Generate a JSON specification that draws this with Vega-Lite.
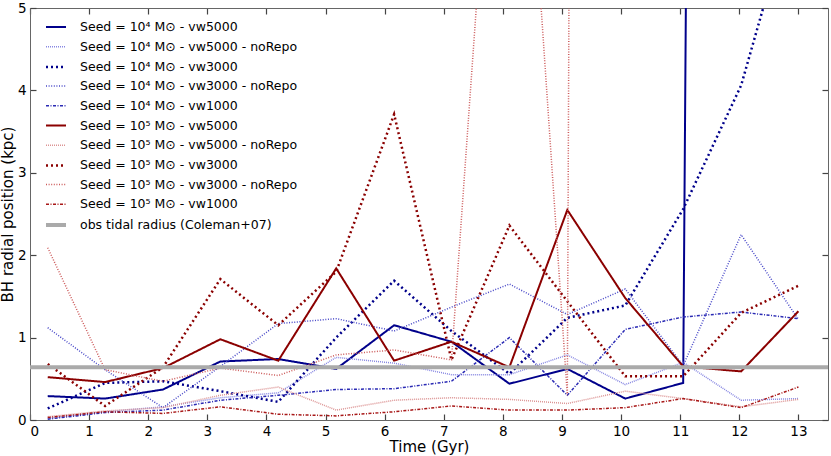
{
  "$schema": "https://vega.github.io/schema/vega-lite/v6.json",
  "width": 798,
  "height": 412,
  "autosize": "none",
  "padding": {"left": 30, "top": 8, "right": 3, "bottom": 36},
  "background": "white",
  "config": {
    "view": {"stroke": null},
    "font": "DejaVu Sans",
    "axis": {
      "grid": false,
      "domainColor": "#666666",
      "tickColor": "#444444",
      "tickWidth": 1.2,
      "labelColor": "#000000",
      "titleColor": "#000000",
      "labelFont": "DejaVu Sans",
      "titleFont": "DejaVu Sans",
      "labelFontSize": 13.5,
      "titleFontSize": 15,
      "titleFontWeight": "normal"
    }
  },
  "datasets": {
    "runs": [
      {"series": "Seed = 10⁴ M⊙ - vw5000", "t": 0.3, "r": 0.29},
      {"series": "Seed = 10⁴ M⊙ - vw5000", "t": 1.27, "r": 0.26},
      {"series": "Seed = 10⁴ M⊙ - vw5000", "t": 2.25, "r": 0.37},
      {"series": "Seed = 10⁴ M⊙ - vw5000", "t": 3.22, "r": 0.71},
      {"series": "Seed = 10⁴ M⊙ - vw5000", "t": 4.2, "r": 0.74},
      {"series": "Seed = 10⁴ M⊙ - vw5000", "t": 5.18, "r": 0.62},
      {"series": "Seed = 10⁴ M⊙ - vw5000", "t": 6.16, "r": 1.15},
      {"series": "Seed = 10⁴ M⊙ - vw5000", "t": 7.13, "r": 0.95},
      {"series": "Seed = 10⁴ M⊙ - vw5000", "t": 8.11, "r": 0.44},
      {"series": "Seed = 10⁴ M⊙ - vw5000", "t": 9.09, "r": 0.62},
      {"series": "Seed = 10⁴ M⊙ - vw5000", "t": 10.07, "r": 0.26},
      {"series": "Seed = 10⁴ M⊙ - vw5000", "t": 11.05, "r": 0.45},
      {"series": "Seed = 10⁴ M⊙ - vw5000", "t": 12.03, "r": 99},

      {"series": "Seed = 10⁴ M⊙ - vw5000 - noRepo", "t": 0.3, "r": 0.02},
      {"series": "Seed = 10⁴ M⊙ - vw5000 - noRepo", "t": 1.27, "r": 0.10},
      {"series": "Seed = 10⁴ M⊙ - vw5000 - noRepo", "t": 2.25, "r": 0.16},
      {"series": "Seed = 10⁴ M⊙ - vw5000 - noRepo", "t": 3.22, "r": 0.27},
      {"series": "Seed = 10⁴ M⊙ - vw5000 - noRepo", "t": 4.2, "r": 0.33},
      {"series": "Seed = 10⁴ M⊙ - vw5000 - noRepo", "t": 5.18, "r": 0.76},
      {"series": "Seed = 10⁴ M⊙ - vw5000 - noRepo", "t": 6.16, "r": 0.69},
      {"series": "Seed = 10⁴ M⊙ - vw5000 - noRepo", "t": 7.13, "r": 0.55},
      {"series": "Seed = 10⁴ M⊙ - vw5000 - noRepo", "t": 8.11, "r": 0.55},
      {"series": "Seed = 10⁴ M⊙ - vw5000 - noRepo", "t": 9.09, "r": 0.79},
      {"series": "Seed = 10⁴ M⊙ - vw5000 - noRepo", "t": 10.07, "r": 0.43},
      {"series": "Seed = 10⁴ M⊙ - vw5000 - noRepo", "t": 11.05, "r": 0.70},
      {"series": "Seed = 10⁴ M⊙ - vw5000 - noRepo", "t": 12.03, "r": 0.24},
      {"series": "Seed = 10⁴ M⊙ - vw5000 - noRepo", "t": 13.0, "r": 0.26},

      {"series": "Seed = 10⁴ M⊙ - vw3000", "t": 0.3, "r": 0.14},
      {"series": "Seed = 10⁴ M⊙ - vw3000", "t": 1.27, "r": 0.45},
      {"series": "Seed = 10⁴ M⊙ - vw3000", "t": 2.25, "r": 0.47},
      {"series": "Seed = 10⁴ M⊙ - vw3000", "t": 3.22, "r": 0.35},
      {"series": "Seed = 10⁴ M⊙ - vw3000", "t": 4.2, "r": 0.22},
      {"series": "Seed = 10⁴ M⊙ - vw3000", "t": 5.18, "r": 1.0},
      {"series": "Seed = 10⁴ M⊙ - vw3000", "t": 6.16, "r": 1.69},
      {"series": "Seed = 10⁴ M⊙ - vw3000", "t": 7.13, "r": 1.08},
      {"series": "Seed = 10⁴ M⊙ - vw3000", "t": 8.11, "r": 0.56},
      {"series": "Seed = 10⁴ M⊙ - vw3000", "t": 9.09, "r": 1.24},
      {"series": "Seed = 10⁴ M⊙ - vw3000", "t": 10.07, "r": 1.39},
      {"series": "Seed = 10⁴ M⊙ - vw3000", "t": 11.05, "r": 2.56},
      {"series": "Seed = 10⁴ M⊙ - vw3000", "t": 12.03, "r": 4.06},
      {"series": "Seed = 10⁴ M⊙ - vw3000", "t": 13.0, "r": 6.5},

      {"series": "Seed = 10⁴ M⊙ - vw3000 - noRepo", "t": 0.3, "r": 1.12},
      {"series": "Seed = 10⁴ M⊙ - vw3000 - noRepo", "t": 1.27, "r": 0.61},
      {"series": "Seed = 10⁴ M⊙ - vw3000 - noRepo", "t": 2.25, "r": 0.15},
      {"series": "Seed = 10⁴ M⊙ - vw3000 - noRepo", "t": 3.22, "r": 0.65},
      {"series": "Seed = 10⁴ M⊙ - vw3000 - noRepo", "t": 4.2, "r": 1.17},
      {"series": "Seed = 10⁴ M⊙ - vw3000 - noRepo", "t": 5.18, "r": 1.23},
      {"series": "Seed = 10⁴ M⊙ - vw3000 - noRepo", "t": 6.16, "r": 1.08},
      {"series": "Seed = 10⁴ M⊙ - vw3000 - noRepo", "t": 7.13, "r": 1.37},
      {"series": "Seed = 10⁴ M⊙ - vw3000 - noRepo", "t": 8.11, "r": 1.65},
      {"series": "Seed = 10⁴ M⊙ - vw3000 - noRepo", "t": 9.09, "r": 1.28},
      {"series": "Seed = 10⁴ M⊙ - vw3000 - noRepo", "t": 10.07, "r": 1.59},
      {"series": "Seed = 10⁴ M⊙ - vw3000 - noRepo", "t": 11.05, "r": 0.66},
      {"series": "Seed = 10⁴ M⊙ - vw3000 - noRepo", "t": 12.03, "r": 2.25},
      {"series": "Seed = 10⁴ M⊙ - vw3000 - noRepo", "t": 13.0, "r": 1.22},

      {"series": "Seed = 10⁴ M⊙ - vw1000", "t": 0.3, "r": 0.01},
      {"series": "Seed = 10⁴ M⊙ - vw1000", "t": 1.27, "r": 0.09},
      {"series": "Seed = 10⁴ M⊙ - vw1000", "t": 2.25, "r": 0.12},
      {"series": "Seed = 10⁴ M⊙ - vw1000", "t": 3.22, "r": 0.24},
      {"series": "Seed = 10⁴ M⊙ - vw1000", "t": 4.2, "r": 0.30},
      {"series": "Seed = 10⁴ M⊙ - vw1000", "t": 5.18, "r": 0.37},
      {"series": "Seed = 10⁴ M⊙ - vw1000", "t": 6.16, "r": 0.38},
      {"series": "Seed = 10⁴ M⊙ - vw1000", "t": 7.13, "r": 0.47},
      {"series": "Seed = 10⁴ M⊙ - vw1000", "t": 8.11, "r": 1.0},
      {"series": "Seed = 10⁴ M⊙ - vw1000", "t": 9.09, "r": 0.30},
      {"series": "Seed = 10⁴ M⊙ - vw1000", "t": 10.07, "r": 1.10},
      {"series": "Seed = 10⁴ M⊙ - vw1000", "t": 11.05, "r": 1.25},
      {"series": "Seed = 10⁴ M⊙ - vw1000", "t": 12.03, "r": 1.31},
      {"series": "Seed = 10⁴ M⊙ - vw1000", "t": 13.0, "r": 1.23},

      {"series": "Seed = 10⁵ M⊙ - vw5000", "t": 0.3, "r": 0.52},
      {"series": "Seed = 10⁵ M⊙ - vw5000", "t": 1.27, "r": 0.46},
      {"series": "Seed = 10⁵ M⊙ - vw5000", "t": 2.25, "r": 0.63},
      {"series": "Seed = 10⁵ M⊙ - vw5000", "t": 3.22, "r": 0.98},
      {"series": "Seed = 10⁵ M⊙ - vw5000", "t": 4.2, "r": 0.72},
      {"series": "Seed = 10⁵ M⊙ - vw5000", "t": 5.18, "r": 1.84},
      {"series": "Seed = 10⁵ M⊙ - vw5000", "t": 6.16, "r": 0.72},
      {"series": "Seed = 10⁵ M⊙ - vw5000", "t": 7.13, "r": 0.95},
      {"series": "Seed = 10⁵ M⊙ - vw5000", "t": 8.11, "r": 0.64},
      {"series": "Seed = 10⁵ M⊙ - vw5000", "t": 9.09, "r": 2.55},
      {"series": "Seed = 10⁵ M⊙ - vw5000", "t": 10.07, "r": 1.48},
      {"series": "Seed = 10⁵ M⊙ - vw5000", "t": 11.05, "r": 0.65},
      {"series": "Seed = 10⁵ M⊙ - vw5000", "t": 12.03, "r": 0.59},
      {"series": "Seed = 10⁵ M⊙ - vw5000", "t": 13.0, "r": 1.32},

      {"series": "Seed = 10⁵ M⊙ - vw5000 - noRepo", "t": 0.3, "r": 0.04},
      {"series": "Seed = 10⁵ M⊙ - vw5000 - noRepo", "t": 1.27, "r": 0.11},
      {"series": "Seed = 10⁵ M⊙ - vw5000 - noRepo", "t": 2.25, "r": 0.15},
      {"series": "Seed = 10⁵ M⊙ - vw5000 - noRepo", "t": 3.22, "r": 0.30},
      {"series": "Seed = 10⁵ M⊙ - vw5000 - noRepo", "t": 4.2, "r": 0.40},
      {"series": "Seed = 10⁵ M⊙ - vw5000 - noRepo", "t": 5.18, "r": 0.12},
      {"series": "Seed = 10⁵ M⊙ - vw5000 - noRepo", "t": 6.16, "r": 0.24},
      {"series": "Seed = 10⁵ M⊙ - vw5000 - noRepo", "t": 7.13, "r": 0.27},
      {"series": "Seed = 10⁵ M⊙ - vw5000 - noRepo", "t": 8.11, "r": 0.25},
      {"series": "Seed = 10⁵ M⊙ - vw5000 - noRepo", "t": 9.09, "r": 0.20},
      {"series": "Seed = 10⁵ M⊙ - vw5000 - noRepo", "t": 10.07, "r": 0.35},
      {"series": "Seed = 10⁵ M⊙ - vw5000 - noRepo", "t": 11.05, "r": 0.26},
      {"series": "Seed = 10⁵ M⊙ - vw5000 - noRepo", "t": 12.03, "r": 0.16},
      {"series": "Seed = 10⁵ M⊙ - vw5000 - noRepo", "t": 13.0, "r": 0.25},

      {"series": "Seed = 10⁵ M⊙ - vw3000", "t": 0.3, "r": 0.68},
      {"series": "Seed = 10⁵ M⊙ - vw3000", "t": 1.27, "r": 0.17},
      {"series": "Seed = 10⁵ M⊙ - vw3000", "t": 2.25, "r": 0.64},
      {"series": "Seed = 10⁵ M⊙ - vw3000", "t": 3.22, "r": 1.71},
      {"series": "Seed = 10⁵ M⊙ - vw3000", "t": 4.2, "r": 1.15},
      {"series": "Seed = 10⁵ M⊙ - vw3000", "t": 5.18, "r": 1.80},
      {"series": "Seed = 10⁵ M⊙ - vw3000", "t": 6.16, "r": 3.71},
      {"series": "Seed = 10⁵ M⊙ - vw3000", "t": 7.13, "r": 0.73},
      {"series": "Seed = 10⁵ M⊙ - vw3000", "t": 8.11, "r": 2.36},
      {"series": "Seed = 10⁵ M⊙ - vw3000", "t": 9.09, "r": 1.44},
      {"series": "Seed = 10⁵ M⊙ - vw3000", "t": 10.07, "r": 0.53},
      {"series": "Seed = 10⁵ M⊙ - vw3000", "t": 11.05, "r": 0.53},
      {"series": "Seed = 10⁵ M⊙ - vw3000", "t": 12.03, "r": 1.30},
      {"series": "Seed = 10⁵ M⊙ - vw3000", "t": 13.0, "r": 1.63},

      {"series": "Seed = 10⁵ M⊙ - vw3000 - noRepo", "t": 0.3, "r": 2.09},
      {"series": "Seed = 10⁵ M⊙ - vw3000 - noRepo", "t": 1.27, "r": 0.61},
      {"series": "Seed = 10⁵ M⊙ - vw3000 - noRepo", "t": 2.25, "r": 0.47},
      {"series": "Seed = 10⁵ M⊙ - vw3000 - noRepo", "t": 3.22, "r": 0.63},
      {"series": "Seed = 10⁵ M⊙ - vw3000 - noRepo", "t": 4.2, "r": 0.54},
      {"series": "Seed = 10⁵ M⊙ - vw3000 - noRepo", "t": 5.18, "r": 0.79},
      {"series": "Seed = 10⁵ M⊙ - vw3000 - noRepo", "t": 6.16, "r": 0.85},
      {"series": "Seed = 10⁵ M⊙ - vw3000 - noRepo", "t": 7.13, "r": 0.73},
      {"series": "Seed = 10⁵ M⊙ - vw3000 - noRepo", "t": 8.11, "r": 10.7},
      {"series": "Seed = 10⁵ M⊙ - vw3000 - noRepo", "t": 9.09, "r": 0.30},
      {"series": "Seed = 10⁵ M⊙ - vw3000 - noRepo", "t": 10.07, "r": 170},

      {"series": "Seed = 10⁵ M⊙ - vw1000", "t": 0.3, "r": 0.03},
      {"series": "Seed = 10⁵ M⊙ - vw1000", "t": 1.27, "r": 0.10},
      {"series": "Seed = 10⁵ M⊙ - vw1000", "t": 2.25, "r": 0.08},
      {"series": "Seed = 10⁵ M⊙ - vw1000", "t": 3.22, "r": 0.16},
      {"series": "Seed = 10⁵ M⊙ - vw1000", "t": 4.2, "r": 0.07},
      {"series": "Seed = 10⁵ M⊙ - vw1000", "t": 5.18, "r": 0.05},
      {"series": "Seed = 10⁵ M⊙ - vw1000", "t": 6.16, "r": 0.10},
      {"series": "Seed = 10⁵ M⊙ - vw1000", "t": 7.13, "r": 0.17},
      {"series": "Seed = 10⁵ M⊙ - vw1000", "t": 8.11, "r": 0.12},
      {"series": "Seed = 10⁵ M⊙ - vw1000", "t": 9.09, "r": 0.12},
      {"series": "Seed = 10⁵ M⊙ - vw1000", "t": 10.07, "r": 0.15},
      {"series": "Seed = 10⁵ M⊙ - vw1000", "t": 11.05, "r": 0.26},
      {"series": "Seed = 10⁵ M⊙ - vw1000", "t": 12.03, "r": 0.15},
      {"series": "Seed = 10⁵ M⊙ - vw1000", "t": 13.0, "r": 0.40}
    ],
    "obs": [
      {"series": "obs tidal radius (Coleman+07)", "t": 0, "r": 0.64},
      {"series": "obs tidal radius (Coleman+07)", "t": 13.5, "r": 0.64}
    ]
  },
  "encoding": {
    "color": {
      "field": "series",
      "type": "nominal",
      "scale": {
        "domain": [
          "Seed = 10⁴ M⊙ - vw5000", "Seed = 10⁴ M⊙ - vw5000 - noRepo", "Seed = 10⁴ M⊙ - vw3000",
          "Seed = 10⁴ M⊙ - vw3000 - noRepo", "Seed = 10⁴ M⊙ - vw1000",
          "Seed = 10⁵ M⊙ - vw5000", "Seed = 10⁵ M⊙ - vw5000 - noRepo", "Seed = 10⁵ M⊙ - vw3000",
          "Seed = 10⁵ M⊙ - vw3000 - noRepo", "Seed = 10⁵ M⊙ - vw1000",
          "obs tidal radius (Coleman+07)"
        ],
        "range": ["#00008b", "#8888e2", "#00008b", "#4848c8", "#2a2ab4",
                  "#8b0000", "#dc9494", "#8b0000", "#cc5a5a", "#a81818", "#aaaaaa"]
      },
      "legend": {
        "orient": "none",
        "legendX": 14,
        "legendY": 8,
        "title": null,
        "padding": 0,
        "symbolType": "stroke",
        "symbolSize": 400,
        "rowPadding": 1.7,
        "labelOffset": 12,
        "labelFont": "DejaVu Sans",
        "labelFontSize": 12.5,
        "labelColor": "#000000",
        "labelLimit": 500
      }
    },
    "strokeDash": {
      "field": "series",
      "type": "nominal",
      "scale": {
        "domain": [
          "Seed = 10⁴ M⊙ - vw5000", "Seed = 10⁴ M⊙ - vw5000 - noRepo", "Seed = 10⁴ M⊙ - vw3000",
          "Seed = 10⁴ M⊙ - vw3000 - noRepo", "Seed = 10⁴ M⊙ - vw1000",
          "Seed = 10⁵ M⊙ - vw5000", "Seed = 10⁵ M⊙ - vw5000 - noRepo", "Seed = 10⁵ M⊙ - vw3000",
          "Seed = 10⁵ M⊙ - vw3000 - noRepo", "Seed = 10⁵ M⊙ - vw1000",
          "obs tidal radius (Coleman+07)"
        ],
        "range": [[1, 0], [1, 1], [2, 3], [1, 1.6], [3, 1.5, 1, 1.5],
                  [1, 0], [1, 1], [2, 3], [1, 1.6], [3, 1.5, 1, 1.5], [1, 0]]
      }
    },
    "strokeWidth": {
      "field": "series",
      "type": "nominal",
      "scale": {
        "type": "ordinal",
        "domain": [
          "Seed = 10⁴ M⊙ - vw5000", "Seed = 10⁴ M⊙ - vw5000 - noRepo", "Seed = 10⁴ M⊙ - vw3000",
          "Seed = 10⁴ M⊙ - vw3000 - noRepo", "Seed = 10⁴ M⊙ - vw1000",
          "Seed = 10⁵ M⊙ - vw5000", "Seed = 10⁵ M⊙ - vw5000 - noRepo", "Seed = 10⁵ M⊙ - vw3000",
          "Seed = 10⁵ M⊙ - vw3000 - noRepo", "Seed = 10⁵ M⊙ - vw1000",
          "obs tidal radius (Coleman+07)"
        ],
        "range": [2, 1.5, 2.5, 1.5, 1.5, 2, 1.5, 2.5, 1.5, 1.5, 4]
      }
    }
  },
  "layer": [
    {
      "data": {"name": "runs"},
      "mark": {"type": "line", "clip": true},
      "encoding": {
        "x": {
          "field": "t", "type": "quantitative",
          "scale": {"domain": [0, 13.5], "nice": false, "zero": false},
          "axis": {"orient": "bottom", "values": [0,1,2,3,4,5,6,7,8,9,10,11,12,13], "tickSize": -6, "labelPadding": 10, "title": "Time (Gyr)", "titlePadding": 2}
        },
        "y": {
          "field": "r", "type": "quantitative",
          "scale": {"domain": [0, 5], "nice": false, "zero": false},
          "axis": {"orient": "left", "values": [0,1,2,3,4,5], "tickSize": -6, "labelPadding": 10, "title": "BH radial position  (kpc)", "titlePadding": 2}
        }
      }
    },
    {
      "data": {"name": "obs"},
      "mark": {"type": "line", "clip": true},
      "encoding": {
        "x": {
          "field": "t", "type": "quantitative",
          "scale": {"domain": [0, 13.5], "nice": false, "zero": false},
          "axis": {"orient": "top", "values": [0,1,2,3,4,5,6,7,8,9,10,11,12,13], "tickSize": -6, "labels": false, "title": null}
        },
        "y": {
          "field": "r", "type": "quantitative",
          "scale": {"domain": [0, 5], "nice": false, "zero": false},
          "axis": {"orient": "right", "values": [0,1,2,3,4,5], "tickSize": -6, "labels": false, "title": null}
        }
      }
    }
  ],
  "resolve": {"axis": {"x": "independent", "y": "independent"}}
}
